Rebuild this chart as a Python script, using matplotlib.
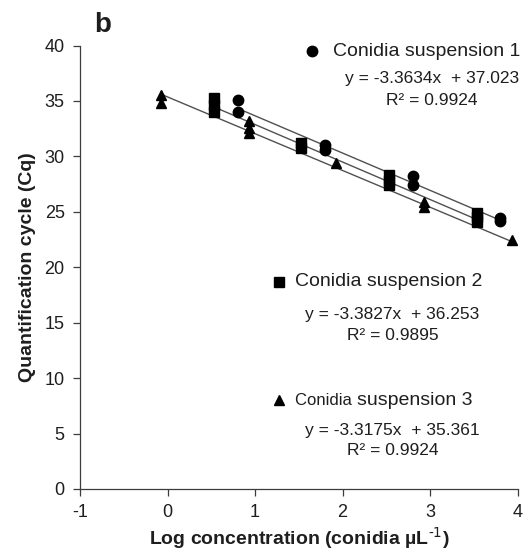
import numpy as np
import matplotlib.pyplot as plt

plt.rcParams['font.family'] = ['Liberation Sans', 'DejaVu Sans']
plt.rcParams['axes.unicode_minus'] = False

# Conidia suspension 1 (circles)
conc_1 = [0.8, 0.8, 1.8, 1.8, 2.8, 2.8, 3.8, 3.8]
cq_1 = [35.1, 34.0, 31.0, 30.6, 28.2, 27.4, 24.4, 24.2]
# Conidia suspension 2 (squares)
conc_2 = [0.53, 0.53, 0.53, 1.53, 1.53, 2.53, 2.53, 2.53, 3.53, 3.53, 3.53]
cq_2 = [35.3, 34.6, 34.0, 31.2, 30.8, 28.3, 27.8, 27.4, 24.9, 24.5, 24.1]
# Conidia suspension 3 (triangles)
conc_3 = [-0.07, -0.07, 0.93, 0.93, 0.93, 1.93, 2.93, 2.93, 3.93]
cq_3 = [35.5, 34.8, 33.2, 32.6, 32.1, 29.4, 25.9, 25.4, 22.5]

# trendlines as printed on the figure
slopes = [-3.3634, -3.3827, -3.3175]
intercepts = [37.023, 36.253, 35.361]
r2 = ['0.9924', '0.9895', '0.9924']

txt = '#1e1e1e'
fig = plt.figure(figsize=(5.28, 5.55), dpi=100)
ax = fig.add_axes([0.1515, 0.119, 0.829, 0.799])

series = [(conc_1, cq_1, 'o', 7.5), (conc_2, cq_2, 's', 7.5), (conc_3, cq_3, '^', 7.5)]
for (xs, ys, m, ms), a, b in zip(series, slopes, intercepts):
    xl = np.array([min(xs), max(xs)])
    ax.plot(xl, a * xl + b, color='#505050', lw=1, zorder=1)
    ax.plot(xs, ys, ls='none', marker=m, ms=ms, color='black', mec='black', zorder=2)

ax.set_xlim(-1, 4)
ax.set_ylim(0, 40)
ax.set_xticks(range(-1, 5))
ax.set_yticks(range(0, 41, 5))
for s in ['top', 'right']:
    ax.spines[s].set_visible(False)
for s in ['left', 'bottom']:
    ax.spines[s].set_color('#3c3c3c')
    ax.spines[s].set_linewidth(0.9)
ax.tick_params(direction='out', length=5, width=0.9, color='#3c3c3c',
               labelsize=13, labelcolor=txt, pad=6)

ax.set_xlabel('Log concentration (conidia µL$^{\\text{-1}}$)', fontsize=14,
              fontweight='bold', color=txt, labelpad=3)
ax.set_ylabel('Quantification cycle (Cq)', fontsize=14, fontweight='bold',
              color=txt, labelpad=6)

fig.text(0.178, 0.943, 'b', fontsize=20, fontweight='bold', color=txt)

# legend entries with equations
ax.plot([1.65], [39.5], 'o', ms=7.5, color='black', clip_on=False)
ax.text(1.89, 39.5, 'Conidia suspension 1', fontsize=14, color=txt, va='center')
ax.text(3.02, 37.0, 'y = -3.3634x  + 37.023', fontsize=12.5, color=txt,
        ha='center', va='center')
ax.text(3.02, 35.0, 'R² = ' + r2[0], fontsize=12.5, color=txt, ha='center', va='center')

ax.plot([1.27], [18.7], 's', ms=7, color='black')
ax.text(1.46, 18.7, 'Conidia suspension 2', fontsize=14, color=txt, va='center')
ax.text(2.57, 15.7, 'y = -3.3827x  + 36.253', fontsize=12.5, color=txt,
        ha='center', va='center')
ax.text(2.57, 13.8, 'R² = ' + r2[1], fontsize=12.5, color=txt, ha='center', va='center')

ax.plot([1.27], [8.0], '^', ms=7, color='black')
t = ax.text(1.46, 8.0, 'Conidia ', fontsize=12, color=txt, va='center')
fig.canvas.draw()
bb = t.get_window_extent().transformed(ax.transData.inverted())
ax.text(bb.x1, 8.0, 'suspension 3', fontsize=14, color=txt, va='center')
ax.text(2.57, 5.3, 'y = -3.3175x  + 35.361', fontsize=12.5, color=txt,
        ha='center', va='center')
ax.text(2.57, 3.5, 'R² = ' + r2[2], fontsize=12.5, color=txt, ha='center', va='center')

fig.savefig('out.png', dpi=100)
